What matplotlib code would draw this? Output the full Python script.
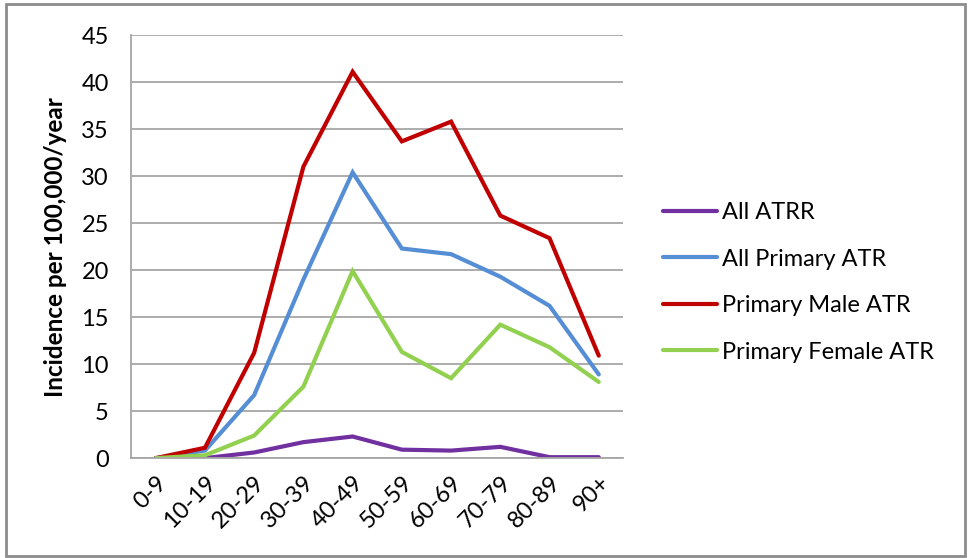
import matplotlib
matplotlib.use('Agg')
import matplotlib.pyplot as plt
from matplotlib.patches import Rectangle

plt.rcParams['font.family'] = ['Lato', 'DejaVu Sans']

# ── DATA ──
age_groups = ['0-9', '10-19', '20-29', '30-39', '40-49',
              '50-59', '60-69', '70-79', '80-89', '90+']

all_atrr = [0.0, 0.0, 0.6, 1.7, 2.3, 0.9, 0.8, 1.2, 0.1, 0.1]
all_primary = [0.0, 0.8, 6.7, 19.0, 30.4, 22.3, 21.7, 19.3, 16.2, 8.9]
male_primary = [0.0, 1.1, 11.2, 31.0, 41.1, 33.7, 35.8, 25.8, 23.4, 10.9]
female_primary = [0.0, 0.3, 2.4, 7.6, 19.9, 11.3, 8.5, 14.2, 11.8, 8.1]

series_names = ['All ATRR', 'All Primary ATR',
                'Primary Male ATR', 'Primary Female ATR']
series_colors = ['#7030a0', '#558ed5', '#c00000', '#92d050']

# ── PLOT ──
fig = plt.figure(figsize=(9.71, 5.58), dpi=100)
ax = fig.add_axes([0.135, 0.179, 0.507, 0.758])

x = list(range(len(age_groups)))
for vals, name, col in zip(
        [all_atrr, all_primary, male_primary, female_primary],
        series_names, series_colors):
    ax.plot(x, vals, color=col, lw=3.0, label=name,
            solid_joinstyle='miter', solid_capstyle='round')

ax.set_xlim(-0.5, len(age_groups) - 0.5)
ax.set_ylim(0, 45)
ax.set_yticks(range(0, 46, 5))
ax.set_xticks(x)
ax.set_xticklabels(age_groups, rotation=45, ha='right',
                   rotation_mode='anchor')
ax.tick_params(axis='y', length=0, pad=16, labelsize=17,
               colors='#000000')
ax.tick_params(axis='x', length=0, pad=10, labelsize=17)

ax.grid(axis='y', color='#a6a6a6', lw=1.3)
ax.set_axisbelow(True)
for side in ['top', 'right']:
    ax.spines[side].set_visible(False)
for side in ['left', 'bottom']:
    ax.spines[side].set_color('#a6a6a6')
    ax.spines[side].set_linewidth(1.3)

ax.set_ylabel('Incidence per 100,000/year', fontsize=17.5,
              fontweight='bold', labelpad=10)

fig.legend(loc='upper left', bbox_to_anchor=(0.661, 0.676),
           frameon=False, fontsize=17, handlelength=2.3,
           handletextpad=0.2, labelspacing=1.08)

# outer chart border
fig.patches.append(Rectangle((0.006, 0.004), 0.988, 0.988,
                             transform=fig.transFigure,
                             fill=False, edgecolor='#8c8c8c',
                             lw=2))

plt.savefig('out.png', dpi=100)
